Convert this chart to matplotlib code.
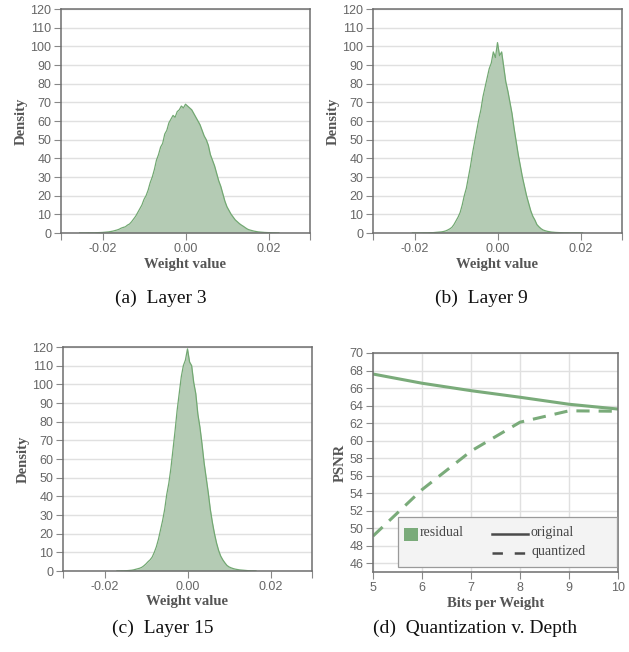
import numpy as np
import matplotlib
matplotlib.use("Agg")
import matplotlib.pyplot as plt
from matplotlib.patches import Rectangle
from matplotlib.lines import Line2D

# -----------------------------
# Data
# -----------------------------
BIN_STEP = 0.0005

# Layer 3 density, bins from -0.0255
layer3_start = -0.0255
layer3_density = [
    0.05, 0.05, 0.05, 0.05, 0.1, 0.1, 0.1, 0.1, 0.15, 0.2,
    0.25, 0.3, 0.4, 0.5, 0.6, 0.8, 1.0, 1.3, 1.6, 2.0,
    2.6, 3.0, 3.3, 4.2, 4.8, 6.0, 7.5, 9.0, 11, 13,
    15, 18, 20, 23, 27, 30, 34, 39, 42, 46,
    48, 53, 55, 59, 61, 63, 62, 65, 66, 68,
    67, 69, 68, 67, 66, 64, 62, 60, 58, 55,
    52, 50, 47, 42, 39, 36, 32, 28, 25, 21,
    17, 14, 12, 10, 8.5, 7.0, 6.0, 5.0, 4.2, 3.5,
    2.7, 2.0, 1.6, 1.3, 1.0, 0.8, 0.6, 0.5, 0.4, 0.3,
    0.25, 0.2, 0.15, 0.1, 0.1, 0.05, 0.05,
]

# Layer 9 density, bins from -0.0205
layer9_start = -0.0205
layer9_density = [
    0.05, 0.05, 0.05, 0.05, 0.05, 0.1, 0.1, 0.1, 0.15, 0.2,
    0.2, 0.3, 0.4, 0.5, 0.6, 0.8, 1.1, 1.6, 2.2, 3.0,
    4.5, 6.5, 8.5, 11, 15, 20, 24, 30, 36, 43,
    49, 55, 61, 66, 73, 78, 83, 88, 91, 97,
    94, 102, 95, 97, 89, 81, 76, 70, 64, 56,
    49, 42, 36, 30, 25, 20, 16, 12, 9, 7,
    4.5, 3.3, 2.3, 1.6, 1.2, 0.9, 0.7, 0.5, 0.4, 0.3,
    0.25, 0.2, 0.15, 0.1, 0.1, 0.1, 0.05, 0.05, 0.05, 0.05,
    0.05, 0.05, 0.05,
]

# Layer 15 density, bins from -0.017
layer15_start = -0.017
layer15_density = [
    0.05, 0.05, 0.1, 0.1, 0.15, 0.2, 0.3, 0.4, 0.6, 0.9,
    1.2, 1.5, 2.0, 2.8, 3.8, 5.0, 6.0, 7.5, 10, 13,
    17, 22, 27, 33, 41, 47, 55, 65, 75, 86,
    95, 104, 110, 113, 119, 112, 110, 101, 95, 84,
    77, 68, 58, 50, 42, 33, 26, 20, 15, 11,
    8, 6, 4.4, 3.0, 2.2, 1.7, 1.3, 1.0, 0.8, 0.6,
    0.5, 0.4, 0.3, 0.2, 0.15, 0.1, 0.1, 0.05,
]

# Quantization v. depth
bits = [5, 6, 7, 8, 9, 10]
psnr_original = [67.6, 66.55, 65.7, 64.95, 64.15, 63.6]
psnr_quantized = [49.1, 54.4, 58.8, 62.1, 63.4, 63.35]

captions = ["(a)  Layer 3", "(b)  Layer 9", "(c)  Layer 15", "(d)  Quantization v. Depth"]

# -----------------------------
# Style
# -----------------------------
W, H = 629, 652
plt.rcParams['lines.scale_dashes'] = False
SERIF = ['Liberation Serif', 'DejaVu Serif']
SANS = ['Liberation Sans', 'DejaVu Sans']
GREEN_LINE = '#72a872'
GREEN_FILL = '#b4cbb4'
GREEN_PSNR = '#7aab7a'
FRAME = '#6e6e6e'
GRID = '#e0e0e0'
TICKC = '#888888'
LABELC = '#666666'
TITLEC = '#555555'

fig = plt.figure(figsize=(W / 100, H / 100), dpi=100)


def place(left, top, right, bottom):
    return fig.add_axes([left / W, 1 - bottom / H, (right - left) / W, (bottom - top) / H])


def style_axes(ax):
    for s in ax.spines.values():
        s.set_color(FRAME)
        s.set_linewidth(1.1)
    ax.tick_params(colors=TICKC, labelcolor=LABELC, length=5, width=0.8,
                   labelsize=9, pad=2)
    for lab in ax.get_xticklabels() + ax.get_yticklabels():
        lab.set_fontfamily(SANS)
    ax.set_axisbelow(True)


def hist_panel(ax, start, dens):
    x = start + BIN_STEP * np.arange(len(dens))
    ax.fill_between(x, 0, dens, color=GREEN_FILL, lw=0)
    ax.plot(x, dens, color=GREEN_LINE, lw=0.9)
    ax.set_xlim(-0.03, 0.03)
    ax.set_ylim(0, 120)
    ax.set_yticks(np.arange(0, 121, 10))
    ax.set_xticks([-0.03, -0.02, 0.0, 0.02, 0.03])
    ax.set_xticklabels(['', '-0.02', '0.00', '0.02', ''])
    ax.yaxis.grid(True, color=GRID, lw=1)
    style_axes(ax)
    ax.set_xlabel('Weight value', family=SERIF, fontweight='bold',
                  fontsize=10.5, color=TITLEC, labelpad=2)
    ax.set_ylabel('Density', family=SERIF, fontweight='bold',
                  fontsize=10.5, color=TITLEC, labelpad=2)


ax_a = place(61, 9, 310, 233)
hist_panel(ax_a, layer3_start, layer3_density)
ax_b = place(373, 9, 622, 233)
hist_panel(ax_b, layer9_start, layer9_density)
ax_c = place(63, 347, 312, 571)
hist_panel(ax_c, layer15_start, layer15_density)

# -----------------------------
# Panel (d)
# -----------------------------
ax_d = place(373, 353, 618, 572)
ax_d.plot(bits, psnr_original, color=GREEN_PSNR, lw=2.2, solid_capstyle='butt')
ax_d.plot(bits, psnr_quantized, color=GREEN_PSNR, lw=2.2, dashes=(9.5, 6.5))
ax_d.set_xlim(5, 10)
ax_d.set_ylim(45, 70)
ax_d.set_xticks(bits)
ax_d.set_yticks(np.arange(46, 71, 2))
ax_d.grid(True, color=GRID, lw=1)
style_axes(ax_d)
ax_d.set_xlabel('Bits per Weight', family=SERIF, fontweight='bold',
                fontsize=10.5, color=TITLEC, labelpad=2)
ax_d.set_ylabel('PSNR', family=SERIF, fontweight='bold',
                fontsize=10.5, color=TITLEC, labelpad=2)

# legend box
t = ax_d.transAxes
ax_d.add_patch(Rectangle((0.102, 0.023), 0.894, 0.228, transform=t,
                         facecolor='#f3f3f3', edgecolor='#9a9a9a', lw=0.9, zorder=5))
ax_d.add_patch(Rectangle((0.127, 0.142), 0.057, 0.059, transform=t,
                         facecolor=GREEN_PSNR, edgecolor='none', zorder=6))
ax_d.add_line(Line2D([0.486, 0.633], [0.174, 0.174], transform=t,
                     color='#4a4a4a', lw=1.8, zorder=6))
ax_d.add_line(Line2D([0.486, 0.633], [0.087, 0.087], transform=t,
                     color='#4a4a4a', lw=1.8, dashes=(7.5, 8.5), zorder=6))
leg_kw = dict(transform=t, family=SERIF, fontsize=10, color='#444444',
              va='center', ha='left', zorder=7)
ax_d.text(0.192, 0.180, 'residual', **leg_kw)
ax_d.text(0.641, 0.180, 'original', **leg_kw)
ax_d.text(0.645, 0.093, 'quantized', **leg_kw)

# -----------------------------
# Captions
# -----------------------------
cap_pos = [(161, 298), (481, 298), (163, 628), (475, 628)]
for txt, (cx, cy) in zip(captions, cap_pos):
    fig.text(cx / W, 1 - cy / H, txt, family=SERIF, fontsize=14,
             ha='center', va='center', color='#111111')

fig.savefig('out.png', dpi=100)
